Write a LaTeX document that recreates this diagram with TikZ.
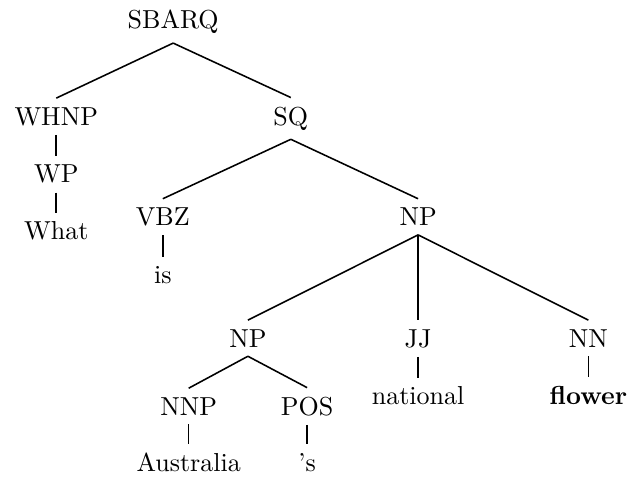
\documentclass[tikz,border=0pt]{standalone}
\usepackage{amsmath}
\usepackage{amssymb}
\usepackage{tikz}

\begin{document}
\begin{tikzpicture}[scale = 1.0, transform shape]
    \tikzstyle{Tag}=[anchor=base]
    \tikzstyle{Branch}=[line width=0.6pt]
    \useasboundingbox (0,0) rectangle (8.5,-6.46);
    % phrase nodes
    \node[Tag] (SBARQ) at (2.34,-0.39) {SBARQ};
    \node[Tag] (WHNP)  at (0.76,-1.69) {WHNP};
    \node[Tag] (SQ)    at (3.93,-1.69) {SQ};
    \node[Tag] (WP)    at (0.76,-2.47) {WP};
    \node[Tag] (What)  at (0.76,-3.24) {What};
    \node[Tag] (VBZ)   at (2.20,-3.05) {VBZ};
    \node[Tag] (NPa)   at (5.65,-3.05) {NP};
    \node[Tag] (is)    at (2.20,-3.83) {is};
    \node[Tag] (NPb)   at (3.35,-4.69) {NP};
    \node[Tag] (JJ)    at (5.65,-4.69) {JJ};
    \node[Tag] (NN)    at (7.95,-4.69) {NN};
    \node[Tag] (national) at (5.65,-5.47) {national};
    \node[Tag] (flower)   at (7.95,-5.47) {\textbf{flower}};
    \node[Tag] (NNP)   at (2.55,-5.61) {NNP};
    \node[Tag] (POS)   at (4.15,-5.61) {POS};
    \node[Tag] (Australia) at (2.55,-6.37) {Australia};
    \node[Tag] (s)     at (4.15,-6.37) {'s};
    % branches
    \draw[Branch] (SBARQ.south) -- (WHNP.north);
    \draw[Branch] (SBARQ.south) -- (SQ.north);
    \draw[Branch] (WHNP.south) -- (WP.north);
    \draw[Branch] (WP.south) -- (What.north);
    \draw[Branch] (SQ.south) -- (VBZ.north);
    \draw[Branch] (SQ.south) -- (NPa.north);
    \draw[Branch] (VBZ.south) -- (is.north);
    \draw[Branch] (NPa.south) -- (NPb.north);
    \draw[Branch] (NPa.south) -- (JJ.north);
    \draw[Branch] (NPa.south) -- (NN.north);
    \draw[Branch] (JJ.south) -- (national.north);
    \draw[Branch] (NN.south) -- (flower.north);
    \draw[Branch] (NPb.south) -- (NNP.north);
    \draw[Branch] (NPb.south) -- (POS.north);
    \draw[Branch] (NNP.south) -- (Australia.north);
    \draw[Branch] (POS.south) -- (s.north);
\end{tikzpicture}
\end{document}
